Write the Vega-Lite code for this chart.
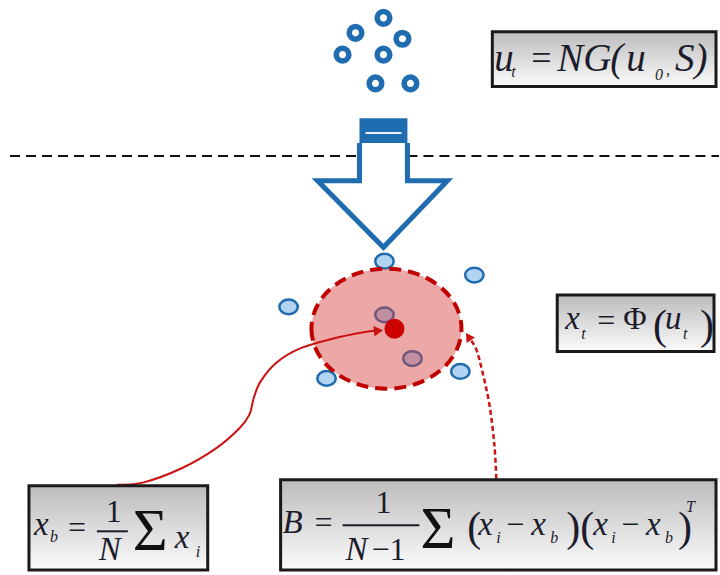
{
  "$schema": "https://vega.github.io/schema/vega-lite/v6.json",
  "width": 720,
  "height": 575,
  "padding": 0,
  "autosize": {"type": "fit", "contains": "padding"},
  "background": "white",
  "config": {"view": {"stroke": null}},
  "datasets": {
    "dash": [{"x": 10, "x2": 360, "y": 153}, {"x": 408, "x2": 720, "y": 153}],
    "rings": [{"x": 384, "y": 14}, {"x": 356, "y": 29}, {"x": 403, "y": 35}, {"x": 343, "y": 51}, {"x": 384, "y": 51}, {"x": 376, "y": 80}, {"x": 411, "y": 80}],
    "cap": [{"x": 360, "x2": 408, "y": 115, "y2": 140}],
    "capline": [{"x": 366, "x2": 402, "y": 130}],
    "arrow": [{"o": 1, "x": 360, "y": 140}, {"o": 2, "x": 360, "y": 178}, {"o": 3, "x": 318, "y": 178}, {"o": 4, "x": 384, "y": 245}, {"o": 5, "x": 448, "y": 178}, {"o": 6, "x": 408, "y": 178}, {"o": 7, "x": 408, "y": 140}],
    "dots": [{"x": 385, "y": 259}, {"x": 475, "y": 273}, {"x": 289, "y": 305}, {"x": 385, "y": 313}, {"x": 413, "y": 357}, {"x": 327, "y": 377}, {"x": 461, "y": 370}],
    "ellipse": [{"x": 387, "y": 327}],
    "center": [{"x": 395, "y": 327}],
    "solid": [{"o": 1, "x": 117, "y": 484}, {"o": 2, "x": 143, "y": 482}, {"o": 3, "x": 183, "y": 467}, {"o": 4, "x": 217, "y": 447}, {"o": 5, "x": 240, "y": 427}, {"o": 6, "x": 250, "y": 413}, {"o": 7, "x": 254, "y": 397}, {"o": 8, "x": 261, "y": 380}, {"o": 9, "x": 277, "y": 361}, {"o": 10, "x": 300, "y": 347}, {"o": 11, "x": 333, "y": 337}, {"o": 12, "x": 367, "y": 330}, {"o": 13, "x": 378, "y": 329}],
    "solidHead": [{"x": 379, "y": 329}],
    "dashed": [{"o": 1, "x": 497, "y": 478}, {"o": 2, "x": 495, "y": 443}, {"o": 3, "x": 490, "y": 403}, {"o": 4, "x": 483, "y": 370}, {"o": 5, "x": 477, "y": 348}, {"o": 6, "x": 471, "y": 338}],
    "dashedHead": [{"x": 469, "y": 335}],
    "boxes": [{"x": 493, "x2": 717, "y": 28, "y2": 83}, {"x": 558, "x2": 715, "y": 293, "y2": 350}, {"x": 29, "x2": 208, "y": 485, "y2": 570}, {"x": 281, "x2": 717, "y": 479, "y2": 570}],
    "bars": [{"x": 97, "x2": 128, "y": 531}, {"x": 343, "x2": 420, "y": 525}],
    "it1": [{"t": "u", "x": 495, "y": 67}, {"t": "NG", "x": 558, "y": 67}, {"t": "(", "x": 611, "y": 67}, {"t": "u", "x": 627, "y": 67}, {"t": "S)", "x": 676, "y": 67}],
    "up1": [{"t": "=", "x": 532, "y": 66}],
    "it": [{"t": "x", "x": 566, "y": 327}, {"t": "u", "x": 666, "y": 327}, {"t": "x", "x": 34, "y": 535}, {"t": "x", "x": 175, "y": 548}, {"t": "N", "x": 99, "y": 560}, {"t": "B", "x": 283, "y": 533}, {"t": "N", "x": 346, "y": 560}, {"t": "x", "x": 479, "y": 535}, {"t": "x", "x": 532, "y": 535}, {"t": "x", "x": 594, "y": 535}, {"t": "x", "x": 647, "y": 535}],
    "up": [{"t": "=", "x": 598, "y": 329}, {"t": "Φ", "x": 624, "y": 327}, {"t": "=", "x": 68, "y": 538}, {"t": "1", "x": 106, "y": 522}, {"t": "=", "x": 315, "y": 533}, {"t": "−1", "x": 372, "y": 560}, {"t": "1", "x": 376, "y": 513}, {"t": "−", "x": 507, "y": 535}, {"t": "−", "x": 622, "y": 535}],
    "sub": [{"t": "t", "x": 512, "y": 74}, {"t": "0", "x": 656, "y": 77}, {"t": ",", "x": 667, "y": 72}, {"t": "t", "x": 582, "y": 337}, {"t": "t", "x": 684, "y": 337}, {"t": "b", "x": 50, "y": 542}, {"t": "i", "x": 196, "y": 557}, {"t": "i", "x": 497, "y": 543}, {"t": "b", "x": 551, "y": 543}, {"t": "i", "x": 612, "y": 543}, {"t": "b", "x": 666, "y": 543}, {"t": "T", "x": 687, "y": 512}],
    "paren": [{"t": "(", "x": 654, "y": 337}, {"t": ")", "x": 701, "y": 337}, {"t": "(", "x": 468, "y": 541}, {"t": ")(", "x": 567, "y": 541}, {"t": ")", "x": 679, "y": 541}],
    "sigma": [{"t": "Σ", "x": 133, "y": 550}, {"t": "Σ", "x": 421, "y": 548}]
  },
  "encoding": {
    "x": {"field": "x", "type": "quantitative", "scale": {"domain": [0, 720], "nice": false, "zero": false}, "axis": null},
    "y": {"field": "y", "type": "quantitative", "scale": {"domain": [0, 575], "nice": false, "zero": false, "reverse": true}, "axis": null}
  },
  "layer": [
    {"data": {"name": "dash"}, "mark": {"type": "rule", "stroke": "#111111", "strokeWidth": 2, "strokeDash": [10, 6]}, "encoding": {"x2": {"field": "x2"}}},
    {"data": {"name": "rings"}, "mark": {"type": "point", "shape": "circle", "filled": false, "stroke": "#1f6db0", "strokeWidth": 5.5, "size": 160, "opacity": 1}},
    {"data": {"name": "cap"}, "mark": {"type": "rect", "fill": "#1f6db0"}, "encoding": {"x2": {"field": "x2"}, "y2": {"field": "y2"}}},
    {"data": {"name": "capline"}, "mark": {"type": "rule", "stroke": "#e8f0f8", "strokeWidth": 2}, "encoding": {"x2": {"field": "x2"}}},
    {"data": {"name": "arrow"}, "mark": {"type": "line", "stroke": "#1f6db0", "strokeWidth": 5, "strokeJoin": "miter"}, "encoding": {"order": {"field": "o", "type": "quantitative"}}},
    {"data": {"name": "dots"}, "mark": {"type": "point", "shape": "M-1,0A1,0.8 0 1,0 1,0A1,0.8 0 1,0 -1,0Z", "filled": true, "fill": "#b3d3f3", "stroke": "#1f6db0", "strokeWidth": 2.5, "size": 340, "opacity": 1}},
    {"data": {"name": "ellipse"}, "mark": {"type": "point", "shape": "M-1,0A1,0.8 0 1,0 1,0A1,0.8 0 1,0 -1,0Z", "filled": true, "fill": "#d43c3c", "fillOpacity": 0.45, "stroke": "#c00000", "strokeOpacity": 1, "strokeWidth": 4, "strokeDash": [12, 7], "size": 22500}},
    {"data": {"name": "solid"}, "mark": {"type": "line", "stroke": "#cc1111", "strokeWidth": 2, "interpolate": "cardinal"}, "encoding": {"order": {"field": "o", "type": "quantitative"}}},
    {"data": {"name": "solidHead"}, "mark": {"type": "point", "shape": "triangle-right", "filled": true, "fill": "#cc1111", "size": 110, "angle": -6, "opacity": 1}},
    {"data": {"name": "dashed"}, "mark": {"type": "line", "stroke": "#cc1111", "strokeWidth": 2.5, "strokeDash": [5, 3], "interpolate": "cardinal"}, "encoding": {"order": {"field": "o", "type": "quantitative"}}},
    {"data": {"name": "dashedHead"}, "mark": {"type": "point", "shape": "triangle-up", "filled": true, "fill": "#cc1111", "size": 100, "angle": -34, "opacity": 1}},
    {"data": {"name": "center"}, "mark": {"type": "point", "shape": "circle", "filled": true, "fill": "#cc0000", "size": 400, "opacity": 1}},
    {"data": {"name": "boxes"}, "mark": {"type": "rect", "stroke": "#1a1a1a", "strokeWidth": 3, "fill": {"gradient": "linear", "x1": 0, "y1": 0, "x2": 0, "y2": 1, "stops": [{"offset": 0, "color": "#bcbcbc"}, {"offset": 1, "color": "#fbfbfb"}]}}, "encoding": {"x2": {"field": "x2"}, "y2": {"field": "y2"}}},
    {"data": {"name": "bars"}, "mark": {"type": "rule", "stroke": "#1c1c2c", "strokeWidth": 2}, "encoding": {"x2": {"field": "x2"}}},
    {"data": {"name": "it1"}, "mark": {"type": "text", "font": "Liberation Serif", "fontStyle": "italic", "fontSize": 39, "align": "left", "baseline": "alphabetic", "color": "#1c1c2c"}, "encoding": {"text": {"field": "t"}}},
    {"data": {"name": "up1"}, "mark": {"type": "text", "font": "Liberation Serif", "fontSize": 36, "align": "left", "baseline": "alphabetic", "color": "#1c1c2c"}, "encoding": {"text": {"field": "t"}}},
    {"data": {"name": "it"}, "mark": {"type": "text", "font": "Liberation Serif", "fontStyle": "italic", "fontSize": 33, "align": "left", "baseline": "alphabetic", "color": "#1c1c2c"}, "encoding": {"text": {"field": "t"}}},
    {"data": {"name": "up"}, "mark": {"type": "text", "font": "Liberation Serif", "fontSize": 32, "align": "left", "baseline": "alphabetic", "color": "#1c1c2c"}, "encoding": {"text": {"field": "t"}}},
    {"data": {"name": "sub"}, "mark": {"type": "text", "font": "Liberation Serif", "fontStyle": "italic", "fontSize": 16, "align": "left", "baseline": "alphabetic", "color": "#1c1c2c"}, "encoding": {"text": {"field": "t"}}},
    {"data": {"name": "paren"}, "mark": {"type": "text", "font": "Liberation Serif", "fontSize": 42, "align": "left", "baseline": "alphabetic", "color": "#1c1c2c"}, "encoding": {"text": {"field": "t"}}},
    {"data": {"name": "sigma"}, "mark": {"type": "text", "font": "Liberation Serif", "fontSize": 60, "align": "left", "baseline": "alphabetic", "color": "#111111"}, "encoding": {"text": {"field": "t"}}}
  ]
}
